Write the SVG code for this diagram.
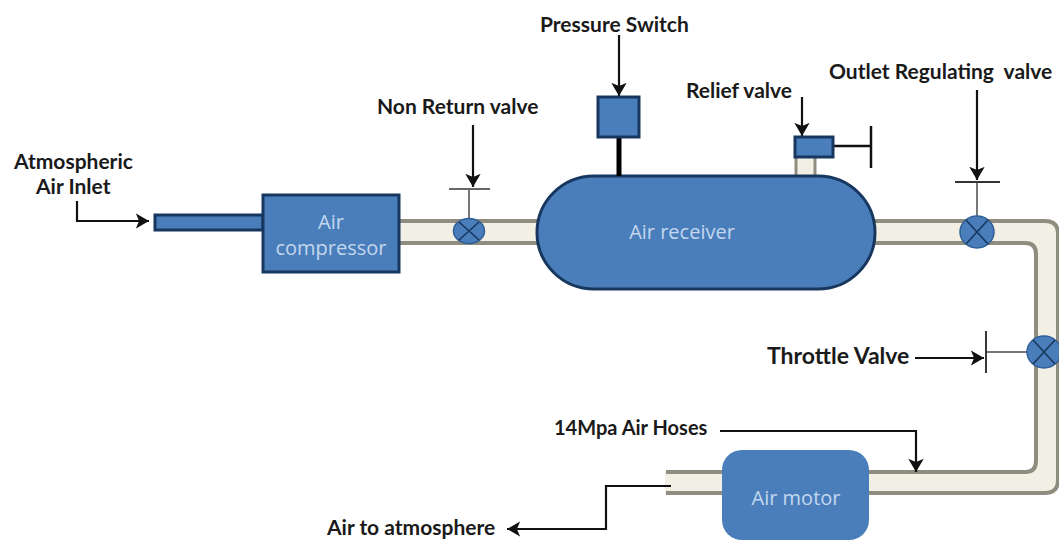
<svg xmlns="http://www.w3.org/2000/svg" width="1059" height="540" viewBox="0 0 1059 540">
<style>
text{font-family:Lato,"Open Sans","Liberation Sans",sans-serif;font-weight:700;font-size:21px;fill:#1a1a1a;white-space:pre}
.in{font-family:"Open Sans","Liberation Sans",sans-serif;font-weight:400;font-size:20px;fill:#c3d7ee;text-anchor:middle}
.b{fill:#4a7ebb;stroke:#17375e;stroke-width:3}
.nb{fill:#4a7ebb;stroke:none}
.p{fill:none;stroke:#8f8d80;stroke-width:4}
.f{fill:#f2f0e4;stroke:none}
.l{fill:none;stroke:#111;stroke-width:2.2}
.s{fill:none;stroke:#777;stroke-width:2}
.x{fill:none;stroke:#17375e;stroke-width:1.6}
.v{fill:#4a7ebb;stroke:#2f5f96;stroke-width:1.5}
</style>
<defs>
<marker id="a" markerWidth="7" markerHeight="7" refX="6" refY="3.5" orient="auto"><path d="M0 0L6 3.5L0 7L1.5 3.5Z" fill="#111"/></marker>
</defs>
<rect width="1059" height="540" fill="#fff"/>
<g id="pipes">
<path class="f" d="M400 221H540V243H400Z"/>
<path class="f" d="M870 221H1045Q1058 221 1058 234V480Q1058 493 1045 493H865V472H1025Q1036 472 1036 461V254Q1036 243 1025 243H870Z"/>
<path class="f" d="M665 472H730V493H665Z"/>
<path class="p" d="M400 221H540M400 243H540"/>
<path class="p" d="M870 221H1045Q1058 221 1058 234V480Q1058 493 1045 493H865M870 243H1025Q1036 243 1036 254V461Q1036 472 1025 472H865"/>
<path class="p" d="M666 472H730M666 493H730"/>
<path class="f" d="M797 158H814V176H797Z"/>
<path class="p" style="stroke-width:3" d="M796 158V176M815 158V176"/>
</g>
<g id="connectors">
<path class="l" marker-end="url(#a)" d="M77 201V221H149"/>
<path class="l" marker-end="url(#a)" d="M473 125V187"/>
<path class="l" marker-end="url(#a)" d="M619 35V96"/>
<path class="l" marker-end="url(#a)" d="M802 97V136"/>
<path class="l" marker-end="url(#a)" d="M977 90V180"/>
<path class="l" marker-end="url(#a)" d="M915 358H984"/>
<path class="l" marker-end="url(#a)" d="M720 431H916V472"/>
<path class="l" marker-end="url(#a)" d="M671 486H606V529H507"/>
</g>
<g id="air-inlet"><rect class="b" x="155" y="215" width="108" height="15"/></g>
<g id="air-compressor"><rect class="b" x="263" y="195" width="136" height="77"/><text class="in" x="331" y="229">Air</text><text class="in" x="331" y="255">compressor</text></g>
<g id="non-return-valve"><path class="s" d="M469 190V218"/><path d="M449 189H490" stroke="#333" stroke-width="1.5"/><ellipse class="v" cx="469" cy="231" rx="15.500" ry="12.500"/><path class="x" d="M459 222L479 240M479 222L459 240"/></g>
<g id="air-receiver"><rect class="b" x="537" y="176" width="338" height="113" rx="57" ry="56.500"/><text class="in" x="682" y="239">Air receiver</text></g>
<g id="pressure-switch"><path d="M619 137V176" stroke="#000" stroke-width="5"/><rect class="b" x="598" y="97" width="41" height="40"/></g>
<g id="relief-valve"><path d="M833 146H871" stroke="#111" stroke-width="2.500"/><path d="M871 126V168" stroke="#111" stroke-width="2.500"/><rect class="b" x="795" y="137" width="38" height="20"/></g>
<g id="outlet-regulating-valve"><path class="s" d="M977 182V216"/><path d="M955 182H1000" stroke="#333" stroke-width="2"/><ellipse class="v" cx="977" cy="232" rx="17" ry="16"/><path class="x" d="M966 220L988 244M988 220L966 244"/></g>
<g id="throttle-valve"><path class="s" d="M986 352H1027"/><path d="M986 331V373" stroke="#222" stroke-width="1.800"/><ellipse class="v" cx="1044" cy="352" rx="17" ry="16"/><path class="x" d="M1033 340L1055 364M1055 340L1033 364"/></g>
<g id="air-motor"><rect class="nb" x="722" y="450" width="147" height="90" rx="20"/><text class="in" x="796" y="505">Air motor</text></g>
<g id="labels">
<text x="14" y="169">Atmospheric</text><text x="36" y="194">Air Inlet</text>
<text x="377" y="114">Non Return valve</text>
<text x="540" y="32">Pressure Switch</text>
<text x="686" y="98">Relief valve</text>
<text x="829" y="79">Outlet Regulating  valve</text>
<text x="767" y="364" style="font-size:23px">Throttle Valve</text>
<text x="554" y="435" style="font-size:20px">14Mpa Air Hoses</text>
<text x="327" y="535">Air to atmosphere</text>
</g>
</svg>
